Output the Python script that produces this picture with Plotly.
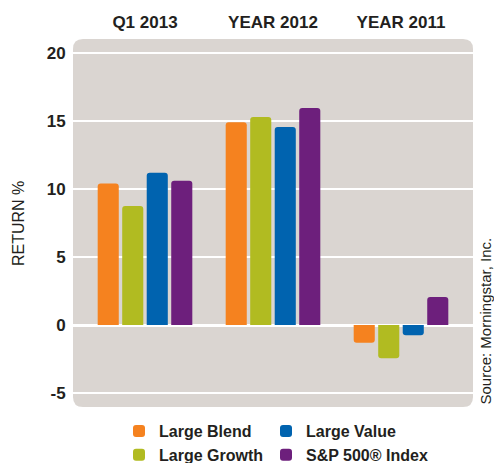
import plotly.graph_objects as go

categories = ["Q1 2013", "YEAR 2012", "YEAR 2011"]
series_names = ["Large Blend", "Large Growth", "Large Value", "S&P 500® Index"]
large_blend = [10.4, 14.9, -1.3]
large_growth = [8.75, 15.3, -2.45]
large_value = [11.2, 14.55, -0.75]
sp500 = [10.6, 15.95, 2.05]
y_ticks = [-5, 0, 5, 10, 15, 20]
y_tick_labels = ["-5", "0", "5", "10", "15", "20"]

colors = ["#F5821F", "#B1BB21", "#0063AF", "#6D1F7C"]
values = [large_blend, large_growth, large_value, sp500]
legend_ids = ["legend", "legend", "legend2", "legend2"]

FONT = "Liberation Sans"
TXT = "#231F20"

fig = go.Figure()
for name, vals, col, lg in zip(series_names, values, colors, legend_ids):
    fig.add_trace(go.Bar(
        x=categories, y=vals, name=name,
        marker=dict(color=col, line=dict(width=0), cornerradius=3),
        legend=lg,
    ))

W, H = 494, 463
ml, mr, mt, mb = 73, 21, 39, 56
pw, ph = W - ml - mr, H - mt - mb
rx, ry = 10 / pw, 10 / ph
path = (f"M {rx},0 L {1-rx},0 Q 1,0 1,{ry} L 1,{1-ry} Q 1,1 {1-rx},1 "
        f"L {rx},1 Q 0,1 0,{1-ry} L 0,{ry} Q 0,0 {rx},0 Z")

legend_common = dict(yanchor="top", orientation="v", xref="container", yref="container",
                     font=dict(family=FONT, size=16, color=TXT, weight="bold"),
                     tracegroupgap=0, itemwidth=30, bgcolor="rgba(0,0,0,0)",
                     y=1 - 414 / H)

fig.update_layout(
    width=W, height=H,
    margin=dict(l=ml, r=mr, t=mt, b=mb, autoexpand=False),
    paper_bgcolor="white",
    plot_bgcolor="rgba(0,0,0,0)",
    barmode="group",
    bargap=0.234,
    bargroupgap=0.14,
    font=dict(family=FONT, color=TXT, size=16),
    shapes=[dict(type="path", path=path, xref="paper", yref="paper",
                 fillcolor="#DAD5D1", line=dict(width=0), layer="below")],
    xaxis=dict(
        side="top", range=[-0.5625, 2.5625], showgrid=False, zeroline=False,
        ticks="outside", ticklen=3, tickcolor="rgba(0,0,0,0)",
        tickfont=dict(family=FONT, size=17, color=TXT, weight="bold"),
        showline=False, automargin=False,
    ),
    yaxis=dict(
        range=[-6.03, 21.03], tickvals=y_ticks, ticktext=y_tick_labels, showgrid=True,
        gridcolor="white", gridwidth=2,
        zeroline=True, zerolinecolor="white", zerolinewidth=3,
        ticks="outside", ticklen=3, tickcolor="rgba(0,0,0,0)",
        tickfont=dict(family=FONT, size=17, color=TXT, weight="bold"),
        automargin=False,
    ),
    legend=dict(x=119 / W, xanchor="left", **legend_common),
    legend2=dict(x=266 / W, xanchor="left", **legend_common),
    annotations=[
        dict(text="Source: Morningstar, Inc.", xref="paper", yref="paper",
             x=(485 - ml) / pw, y=0.0, xanchor="center", yanchor="bottom", textangle=-90,
             showarrow=False, font=dict(family=FONT, size=15, color=TXT)),
        dict(text="RETURN %", xref="paper", yref="paper",
             x=(18 - ml) / pw, y=(H - mb - 223) / ph, xanchor="center", yanchor="middle",
             textangle=-90, showarrow=False, font=dict(family=FONT, size=16, color=TXT)),
    ],
)

fig.write_html("out.html", config={"displayModeBar": False},
               post_script="document.body.style.margin='0';document.body.style.overflow='hidden';")
